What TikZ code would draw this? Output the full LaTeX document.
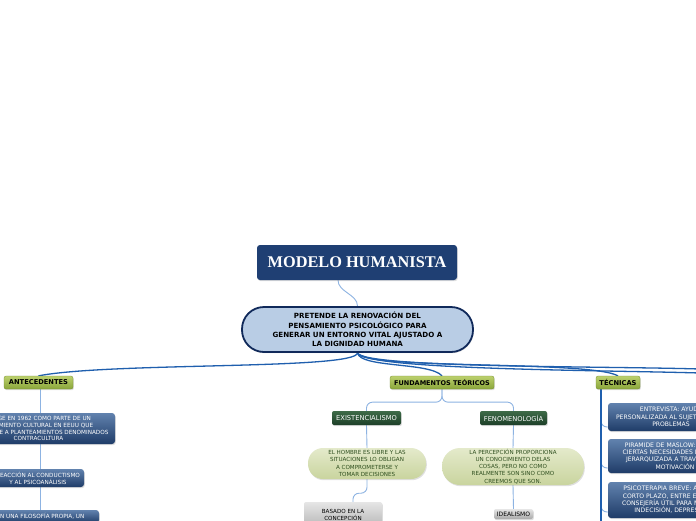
\documentclass[tikz,border=0pt]{standalone}
\usepackage{fontspec}
\setmainfont{DejaVu Sans}
\newfontfamily\titlefont{Liberation Serif}
\usepackage{tikz}
\usetikzlibrary{shadows,backgrounds}

\definecolor{navy}{HTML}{1F3F73}
\definecolor{pillblue}{HTML}{B9CDE5}
\definecolor{pillline}{HTML}{10295A}
\definecolor{mainline}{HTML}{1F5FAE}
\definecolor{thinline}{HTML}{8DB3E2}
\definecolor{greentop}{HTML}{BCD06E}
\definecolor{greenbot}{HTML}{8AA63A}
\definecolor{dgreentop}{HTML}{3E6B48}
\definecolor{dgreenbot}{HTML}{1D3F28}
\definecolor{olivetop}{HTML}{E4EACB}
\definecolor{olivebot}{HTML}{C9D49E}
\definecolor{olivetext}{HTML}{2F4F1F}
\definecolor{bluetop}{HTML}{6182AE}
\definecolor{bluebot}{HTML}{1F3C68}
\definecolor{graytop}{HTML}{E6E6E6}
\definecolor{graybot}{HTML}{A9A9A9}

\tikzset{
  softshadow/.style={drop shadow={opacity=.25, shadow xshift=.8pt, shadow yshift=-1.2pt}},
  topic/.style={rounded corners=2pt, top color=greentop, bottom color=greenbot,
    draw=greenbot!85!black, line width=.3pt, inner sep=0pt, minimum height=13pt,
    font=\bfseries\fontsize{6.7}{7}\selectfont, softshadow},
  subtopic/.style={rounded corners=2pt, top color=dgreentop, bottom color=dgreenbot,
    text=white, inner sep=0pt, minimum height=14pt,
    font=\fontsize{6.7}{7}\selectfont, softshadow},
  idea/.style={rounded corners=15pt, top color=olivetop, bottom color=olivebot,
    text=olivetext, align=center, inner sep=0pt,
    font=\fontsize{5.6}{7.2}\selectfont, softshadow},
  bluebox/.style={rounded corners=3pt, top color=bluetop, bottom color=bluebot,
    text=white, align=center, inner sep=0pt,
    font=\fontsize{5.7}{6.9}\selectfont, softshadow},
  graybox/.style={rounded corners=2pt, top color=graytop, bottom color=graybot,
    align=center, inner sep=0pt, font=\fontsize{5.6}{7}\selectfont, softshadow},
  mainlink/.style={mainline, line width=1.3pt},
  sublink/.style={thinline, line width=.9pt},
}

\begin{document}
\begin{tikzpicture}[x=1pt, y=-1pt]
  \useasboundingbox (0,0) rectangle (696,520);
  \clip (0,0) rectangle (696,520);

  % title and goal
  \node[fill=navy, rounded corners=3pt, minimum width=200pt, minimum height=35pt,
    text=white, softshadow] (title) at (357,262.5)
    {\titlefont\bfseries\fontsize{16.3}{18}\selectfont MODELO HUMANISTA};
  \node[fill=pillblue, draw=pillline, line width=1.8pt, rounded corners=22pt,
    minimum width=231pt, minimum height=45pt, align=center, inner sep=0pt,
    font=\bfseries\fontsize{7.1}{9.2}\selectfont, softshadow] (goal) at (357.5,329.5)
    {PRETENDE LA RENOVACIÓN DEL\\PENSAMIENTO PSICOLÓGICO PARA\\GENERAR UN ENTORNO VITAL AJUSTADO A\\LA DIGNIDAD HUMANA};

  % main branches
  \node[topic, minimum width=69pt] (ante) at (38.5,382.5) {ANTECEDENTES};
  \node[topic, minimum width=104pt, font=\bfseries\fontsize{6.5}{7}\selectfont] (fund) at (442,382.5) {FUNDAMENTOS TEÓRICOS};
  \node[topic, minimum width=44pt] (tec) at (618,382.5) {TÉCNICAS};

  % antecedentes
  \node[bluebox, minimum width=153pt, minimum height=31pt] (surge) at (38.5,428.5)
    {SURGE EN 1962 COMO PARTE DE UN\\MOVIMIENTO CULTURAL EN EEUU QUE\\Y SE OPONE A PLANTEAMIENTOS DENOMINADOS\\CONTRACULTURA};
  \node[bluebox, minimum width=92pt, minimum height=18pt] (reac) at (38,478)
    {REACCIÓN AL CONDUCTISMO\\Y AL PSICOANÁLISIS};
  \node[bluebox, minimum width=122pt, minimum height=13pt] (filo) at (38,516.5)
    {CON UNA FILOSOFÍA PROPIA, UN};

  % fundamentos
  \node[subtopic, minimum width=69pt] (exis) at (366.5,418) {EXISTENCIALISMO};
  \node[subtopic, minimum width=67pt] (feno) at (513.5,418) {FENOMENOLOGÍA};
  \node[idea, minimum width=118pt, minimum height=31pt] (hombre) at (367,463.5)
    {EL HOMBRE ES LIBRE Y LAS\\SITUACIONES LO OBLIGAN\\A COMPROMETERSE Y\\TOMAR DECISIONES};
  \node[idea, rounded corners=18pt, minimum width=142pt, minimum height=37pt] (percep) at (513,466.5)
    {LA PERCEPCIÓN PROPORCIONA\\UN CONOCIMIENTO DELAS\\COSAS, PERO NO COMO\\REALMENTE SON SINO COMO\\CREEMOS QUE SON.};
  \node[graybox, minimum width=78pt, minimum height=32pt] (basado) at (343,518)
    {BASADO EN LA\\CONCEPCIÓN\\FILOSÓFICA DE};
  \node[graybox, minimum width=39pt, minimum height=10pt, font=\fontsize{6}{7}\selectfont] (ideal) at (513.5,514) {IDEALISMO};

  % tecnicas
  \node[bluebox, font=\fontsize{6.1}{7.3}\selectfont, minimum width=126pt, minimum height=28pt] (entre) at (671,417)
    {ENTREVISTA: AYUDA\\PERSONALIZADA AL SUJETO EN SUS\\PROBLEMAS};
  \node[bluebox, font=\fontsize{6.1}{7.3}\selectfont, minimum width=134pt, minimum height=34pt] (piram) at (675,456)
    {PIRAMIDE DE MASLOW: PLANTEA\\CIERTAS NECESIDADES DE FORMA\\JERARQUIZADA A TRAVÉS DE LA\\MOTIVACIÓN};
  \node[bluebox, font=\fontsize{6.1}{7.3}\selectfont, minimum width=128pt, minimum height=36pt] (psico) at (672,500)
    {PSICOTERAPIA BREVE: ALTERNA\\CORTO PLAZO, ENTRE ELLAS LA\\CONSEJERÍA ÚTIL PARA MANEJAR\\INDECISIÓN, DEPRESIÓN};

  \coordinate (offright1) at (700,369);
  \coordinate (offright2) at (700,373);

  \begin{scope}[on background layer]
    \fill[white] (0,0) rectangle (696,520);
    \draw[sublink] ([xshift=-19pt]title.south) .. controls +(0,12) and +(0,-12) .. (goal.north);
    \draw[mainlink] (goal.south) .. controls (356,370) and (110,362) .. (ante.north);
    \draw[mainlink] (goal.south) .. controls (360,368) and (430,362) .. (fund.north);
    \draw[mainlink] (goal.south) .. controls (362,370) and (590,360) .. (tec.north);
    \draw[mainlink] (goal.south) .. controls (364,368) and (600,366) .. (offright1);
    \draw[mainlink] (goal.south) .. controls (366,370) and (600,370) .. (offright2);
    \draw[sublink] ([xshift=1.5pt]ante.south) -- ++(0,140);
    \draw[sublink, rounded corners=6pt] (fund.south) -- ++(0,13) -| (exis.north);
    \draw[sublink, rounded corners=6pt] (fund.south) -- ++(0,13) -| (feno.north);
    \draw[sublink] (exis.south) -- (hombre.north);
    \draw[sublink, rounded corners=6pt] (hombre.south) -- ++(0,14) -| ([xshift=10pt]basado.north);
    \draw[sublink] (feno.south) -- (percep.north);
    \draw[sublink] (percep.south) -- (ideal.north);
    \draw[sublink, rounded corners=6pt] ([xshift=-17pt]tec.south) |- ([yshift=-10pt]entre.west);
    \draw[sublink, rounded corners=6pt] ([xshift=-17pt]tec.south) |- ([yshift=-12pt]piram.west);
    \draw[sublink, rounded corners=6pt] ([xshift=-17pt]tec.south) |- ([yshift=-12pt]psico.west);
    \draw[mainlink] ([xshift=-17pt]tec.south) -- ++(0,140);
  \end{scope}
\end{tikzpicture}
\end{document}
